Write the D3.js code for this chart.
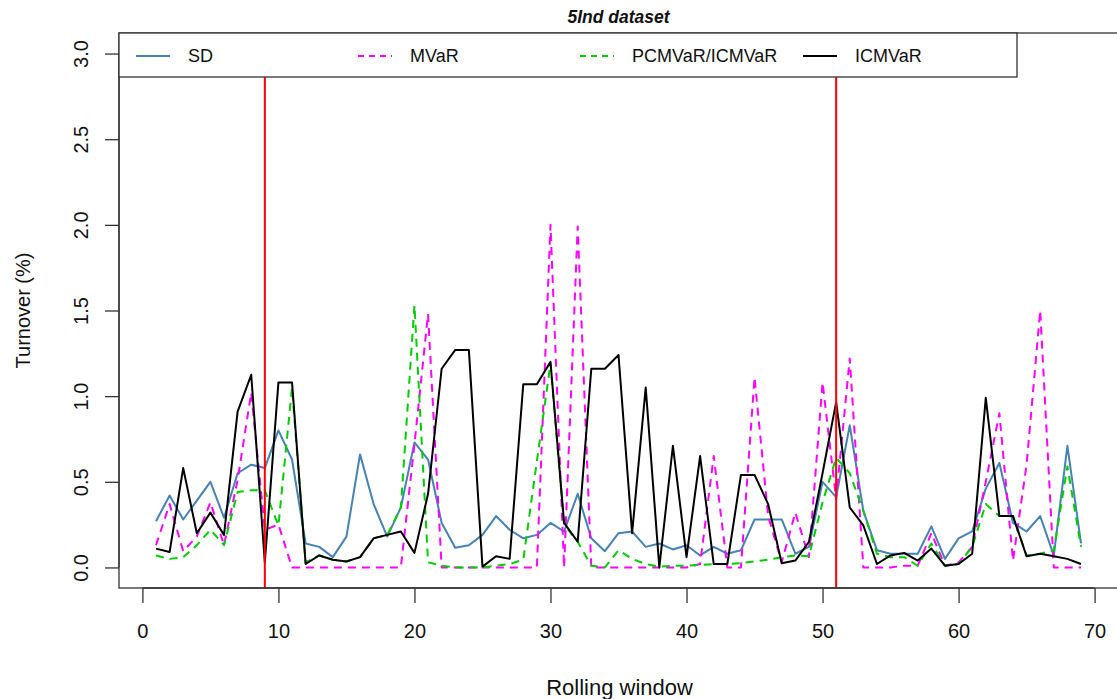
<!DOCTYPE html>
<html>
<head>
<meta charset="utf-8">
<script src="https://cdn.jsdelivr.net/npm/d3@7"></script>
<style>
  html, body { margin: 0; padding: 0; background: #fff; }
  svg { display: block; font-family: "Liberation Sans", Arial, sans-serif; }
</style>
</head>
<body>
<svg id="chart" width="1117" height="699"></svg>
<script>
// Rolling-window turnover (%) for four portfolio strategies, 5Ind dataset
const windows = d3.range(1, 70);

const sd = [0.27,0.42,0.28,0.39,0.50,0.29,0.55,0.60,0.58,0.80,
            0.63,0.14,0.12,0.06,0.18,0.66,0.37,0.18,0.35,0.73,
            0.63,0.26,0.115,0.13,0.19,0.30,0.22,0.17,0.19,0.26,
            0.21,0.43,0.17,0.095,0.20,0.21,0.12,0.14,0.105,0.13,
            0.07,0.12,0.08,0.10,0.28,0.28,0.28,0.08,0.12,0.50,
            0.41,0.83,0.33,0.10,0.08,0.08,0.08,0.24,0.05,0.17,
            0.21,0.46,0.61,0.26,0.21,0.30,0.07,0.71,0.14];

const mvar = [0.13,0.37,0.095,0.18,0.38,0.13,0.51,1.02,0.22,0.25,
              0,0,0,0,0,0,0,0,0,0.72,
              1.48,0,0,0,0,0,0,0,0,2.0,
              0,1.99,0,0,0,0,0,0,0,0,
              0.02,0.65,0,0,1.11,0.30,0.03,0.32,0.06,1.08,
              0.40,1.22,0,0,0,0.01,0.01,0.20,0.01,0.03,
              0.12,0.50,0.90,0.04,0.60,1.50,0,0,0];

const pcmvar = [0.07,0.05,0.06,0.13,0.22,0.13,0.44,0.45,0.45,0.245,
                1.05,0.03,0.07,0.045,0.035,0.06,0.17,0.19,0.35,1.53,
                0.03,0.01,0,0,0,0.01,0.02,0.045,0.62,1.19,
                0.25,0.15,0.01,0,0.10,0.05,0.02,0.005,0.01,0.01,
                0.015,0.02,0.02,0.025,0.035,0.045,0.06,0.07,0.065,0.38,
                0.64,0.55,0.33,0.08,0.06,0.06,0.01,0.14,0.01,0.02,
                0.12,0.37,0.30,0.30,0.07,0.08,0.10,0.59,0.12];

const icmvar = [0.11,0.09,0.58,0.20,0.32,0.19,0.91,1.125,0.03,1.08,
                1.08,0.02,0.07,0.045,0.035,0.06,0.17,0.19,0.21,0.085,
                0.43,1.16,1.27,1.27,0.005,0.065,0.05,1.07,1.07,1.20,
                0.26,0.15,1.16,1.16,1.24,0.20,1.05,0,0.71,0.06,
                0.65,0.02,0.02,0.54,0.54,0.37,0.025,0.04,0.15,0.55,
                0.965,0.35,0.245,0.02,0.07,0.085,0.04,0.11,0.01,0.02,
                0.08,0.99,0.30,0.30,0.065,0.08,0.065,0.05,0.02];

const xTicks = [0, 10, 20, 30, 40, 50, 60, 70];
const yTicks = [0, 0.5, 1, 1.5, 2, 2.5, 3];
const breakWindows = [9, 51];

const seriesNames = ["SD", "MVaR", "PCMVaR/ICMVaR", "ICMVaR"];
const seriesColors = ["#4682B4", "#FF00FF", "#00CD00", "#000000"];
const seriesDash = [null, "8,6", "8,6", null];
const seriesValues = [sd, mvar, pcmvar, icmvar];

const svg = d3.select("#chart");
const plot = { left: 119, right: 1118, top: 33, bottom: 588 };

// axis ranges padded 4% as in base graphics
const xPad = (69 - 1) * 0.04, yPad = 3 * 0.04;
const x = d3.scaleLinear().domain([1 - xPad, 69 + xPad]).range([plot.left, plot.right]);
const y = d3.scaleLinear().domain([0 - yPad, 3 + yPad]).range([plot.bottom, plot.top]);

svg.append("rect").attr("width", 1117).attr("height", 699).attr("fill", "#fff");

// series lines
const line = d3.line().x((d, i) => x(windows[i])).y(d => y(d));
seriesValues.forEach((vals, k) => {
  svg.append("path")
    .datum(vals)
    .attr("d", line)
    .attr("fill", "none")
    .attr("stroke", seriesColors[k])
    .attr("stroke-width", 2)
    .attr("stroke-dasharray", seriesDash[k])
    .attr("stroke-linejoin", "round");
});

// vertical break markers
svg.selectAll("line.break").data(breakWindows).enter().append("line")
  .attr("x1", d => x(d)).attr("x2", d => x(d))
  .attr("y1", plot.bottom).attr("y2", plot.top)
  .attr("stroke", "#FF0000").attr("stroke-width", 2);

// plot frame
svg.append("rect")
  .attr("x", plot.left).attr("y", plot.top)
  .attr("width", plot.right - plot.left).attr("height", plot.bottom - plot.top)
  .attr("fill", "none").attr("stroke", "#333").attr("stroke-width", 1.3);

// x axis
const xAxis = d3.axisBottom(x).tickValues(xTicks).tickSize(15).tickPadding(21)
  .tickFormat(d3.format("d"));
const gx = svg.append("g").attr("transform", `translate(0,${plot.bottom})`).call(xAxis);
gx.select(".domain").attr("d", `M${x(0)},0H${x(70)}`).attr("stroke", "#333").attr("stroke-width", 1.3);
gx.selectAll(".tick line").attr("stroke", "#333").attr("stroke-width", 1.3);
gx.selectAll(".tick text").attr("font-size", 20).attr("fill", "#111")
  .attr("font-family", "Liberation Sans, Arial, sans-serif");

// y axis
const yAxis = d3.axisLeft(y).tickValues(yTicks).tickSize(14).tickPadding(0)
  .tickFormat(d3.format(".1f"));
const gy = svg.append("g").attr("transform", `translate(${plot.left},0)`).call(yAxis);
gy.select(".domain").attr("d", `M0,${y(0)}V${y(3)}`).attr("stroke", "#333").attr("stroke-width", 1.3);
gy.selectAll(".tick line").attr("stroke", "#333").attr("stroke-width", 1.3);
gy.selectAll(".tick text")
  .attr("x", null).attr("dy", null)
  .attr("text-anchor", "middle")
  .attr("transform", "translate(-38,0) rotate(-90)")
  .attr("dy", "0.35em")
  .attr("font-size", 20).attr("fill", "#111")
  .attr("font-family", "Liberation Sans, Arial, sans-serif");

// axis titles
svg.append("text")
  .attr("x", (plot.left + plot.right) / 2 + 1).attr("y", 695)
  .attr("text-anchor", "middle").attr("font-size", 22).attr("fill", "#111")
  .text("Rolling window");
svg.append("text")
  .attr("transform", `translate(30,${(y(0) + y(3)) / 2}) rotate(-90)`)
  .attr("text-anchor", "middle").attr("font-size", 20).attr("fill", "#111")
  .text("Turnover (%)");

// title
svg.append("text")
  .attr("x", (plot.left + plot.right) / 2).attr("y", 23)
  .attr("text-anchor", "middle").attr("font-size", 17.5)
  .attr("font-weight", "bold").attr("font-style", "italic").attr("fill", "#111")
  .text("5Ind dataset");

// legend
const legend = svg.append("g");
legend.append("rect")
  .attr("x", plot.left).attr("y", plot.top).attr("width", 1017 - plot.left).attr("height", 44)
  .attr("fill", "#fff").attr("stroke", "#333").attr("stroke-width", 1.3);
const legendX = [136, 358, 580, 803];
seriesNames.forEach((name, k) => {
  const lx = legendX[k], ly = plot.top + 23;
  legend.append("line")
    .attr("x1", lx).attr("x2", lx + 34).attr("y1", ly).attr("y2", ly)
    .attr("stroke", seriesColors[k]).attr("stroke-width", 2)
    .attr("stroke-dasharray", seriesDash[k] ? "6,5" : null);
  legend.append("text")
    .attr("x", lx + 52).attr("y", ly).attr("dy", "0.35em")
    .attr("font-size", 18).attr("fill", "#111").text(name);
});
</script>
</body>
</html>
